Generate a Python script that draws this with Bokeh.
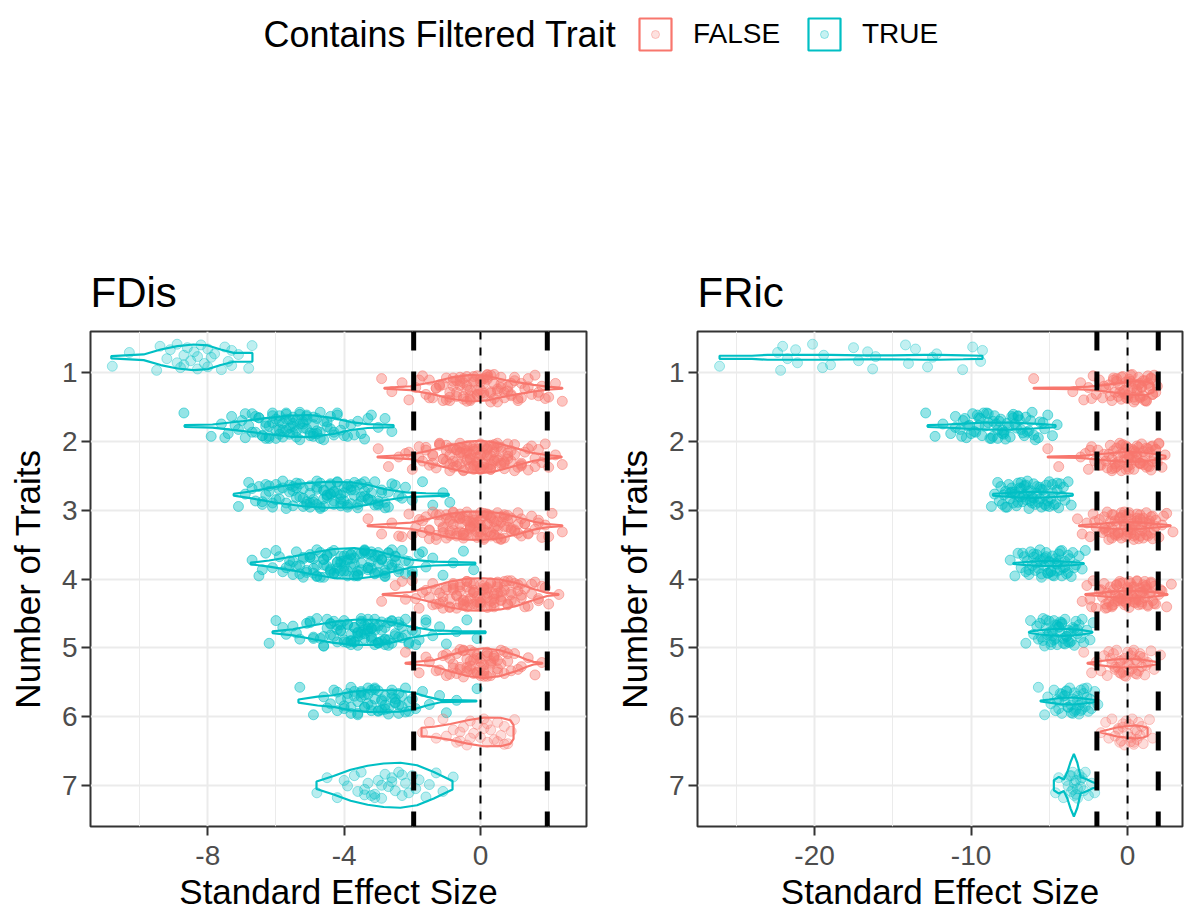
from bokeh.plotting import figure
from bokeh.models import (Range1d, FixedTicker, ColumnDataSource, Legend, LegendItem,
                          Label, Span, GlobalInlineStyleSheet)
from bokeh.layouts import column, row
from bokeh.embed import file_html
from bokeh.resources import INLINE

RED = "#F8766D"
TEAL = "#00BFC4"
FONT = "Liberation Sans"

TRAITS = [1, 2, 3, 4, 5, 6, 7]
GROUP_LABELS = ["FALSE", "TRUE"]

# ---------------- FDis : SES values per number of traits ----------------
FDIS_TRUE_POINTS = [
    [-10.8, -10.3, -9.5, -9.4, -9.2, -9.1, -8.9, -8.9, -8.8, -8.7, -8.7, -8.6, -8.5, -8.4, -8.3,
     -8.3, -8.2, -8.1, -8.0, -8.0, -7.9, -7.8, -7.6, -7.5, -7.4, -7.3, -7.3, -7.1, -6.8, -6.7],
    [-8.7, -7.9, -7.6, -7.4, -7.3, -7.1, -7.0, -6.9, -6.8, -6.7, -6.6, -6.5, -6.4, -6.3, -6.3,
     -6.2, -6.1, -6.0, -6.0, -5.9, -5.8, -5.8, -5.7, -5.6, -5.6, -5.5, -5.5, -5.4, -5.3, -5.3,
     -5.2, -5.1, -5.1, -5.0, -4.9, -4.9, -4.8, -4.7, -4.6, -4.5, -4.4, -4.3, -4.2, -4.1, -4.0,
     -3.9, -3.7, -3.6, -3.4, -3.2, -3.0, -2.8, -2.6, -5.7, -6.2, -5.2, -4.8, -6.6, -5.9, -5.4,
     -7.5, -7.2, -6.9, -6.7, -6.5, -6.4, -6.2, -6.1, -6.0, -5.9, -5.8, -5.7, -5.6, -5.5, -5.4,
     -5.3, -5.2, -5.1, -5.0, -4.9, -4.8, -4.7, -4.6, -4.5, -4.4, -4.2, -4.0, -3.8, -3.5, -3.3,
     -6.3, -5.9, -5.5, -5.1, -4.7, -6.1, -5.7, -5.3, -4.9, -4.3],
    [-7.1, -6.9, -6.8, -6.6, -6.5, -6.4, -6.3, -6.2, -6.1, -6.0, -5.9, -5.8, -5.7, -5.6, -5.5,
     -5.4, -5.3, -5.2, -5.1, -5.0, -4.9, -4.8, -4.7, -4.6, -4.5, -4.4, -4.3, -4.2, -4.1, -4.0,
     -3.9, -3.8, -3.7, -3.6, -3.5, -3.4, -3.3, -3.2, -3.1, -3.0, -2.9, -2.8, -2.6, -2.4, -2.2,
     -2.0, -1.7, -1.4, -1.1, -0.9, -5.6, -5.2, -4.8, -4.6, -4.4, -4.2, -4.0, -3.8, -3.6, -4.5,
     -4.3, -5.0, -3.9, -3.3, -5.4, -6.1, -2.7, -4.1, -4.7, -3.5,
     -6.7, -6.4, -6.2, -6.0, -5.8, -5.7, -5.5, -5.4, -5.3, -5.1, -5.0, -4.9, -4.8, -4.7, -4.6,
     -4.5, -4.4, -4.3, -4.2, -4.1, -4.0, -3.9, -3.8, -3.7, -3.6, -3.5, -3.4, -3.3, -3.2, -3.1,
     -3.0, -2.9, -2.8, -2.5, -2.3, -5.9, -5.2, -4.4, -3.7, -3.0, -5.5, -4.8, -4.1, -3.4, -2.7,
     -6.3, -4.6, -3.9, -5.0, -4.3],
    [-6.7, -6.5, -6.3, -6.1, -5.9, -5.8, -5.6, -5.5, -5.4, -5.3, -5.2, -5.1, -5.0, -4.9, -4.8,
     -4.7, -4.6, -4.5, -4.4, -4.3, -4.2, -4.1, -4.0, -3.9, -3.8, -3.7, -3.6, -3.5, -3.4, -3.3,
     -3.2, -3.1, -3.0, -2.9, -2.8, -2.7, -2.6, -2.5, -2.4, -2.3, -2.2, -2.1, -2.0, -1.8, -1.6,
     -1.4, -1.1, -0.8, -0.5, -0.2, -4.5, -4.3, -4.1, -3.9, -3.7, -3.5, -3.3, -3.1, -4.4, -4.0,
     -3.6, -3.2, -4.8, -5.0, -2.8, -3.8, -4.2, -3.4, -4.6, -2.9, -5.4, -3.0, -4.9, -2.5, -3.9,
     -4.1, -3.6, -5.2, -2.7, -3.3,
     -6.4, -6.0, -5.7, -5.5, -5.3, -5.1, -4.9, -4.8, -4.7, -4.6, -4.5, -4.4, -4.3, -4.2, -4.1,
     -4.0, -3.9, -3.8, -3.7, -3.6, -3.5, -3.4, -3.3, -3.2, -3.1, -3.0, -2.9, -2.8, -2.7, -2.6,
     -2.5, -2.4, -2.2, -2.0, -1.7, -5.6, -5.0, -4.4, -3.8, -3.2, -2.6, -5.2, -4.6, -4.0, -3.4,
     -2.8, -4.2, -3.6, -3.0, -4.8],
    [-6.2, -6.0, -5.7, -5.5, -5.3, -5.1, -4.9, -4.8, -4.6, -4.5, -4.4, -4.3, -4.2, -4.1, -4.0,
     -3.9, -3.8, -3.7, -3.6, -3.5, -3.4, -3.3, -3.2, -3.1, -3.0, -2.9, -2.8, -2.7, -2.6, -2.5,
     -2.4, -2.3, -2.2, -2.1, -2.0, -1.8, -1.6, -1.4, -1.2, -1.0, -0.7, -0.4, -0.1, -3.9, -3.7,
     -3.5, -3.3, -3.1, -2.9, -3.6, -3.4, -3.2, -4.2, -2.6, -4.0, -3.8, -3.0, -2.8, -4.4, -2.4,
     -3.5, -4.6, -3.2, -2.2, -5.0, -3.7, -3.3, -2.7, -4.1, -1.9,
     -5.8, -5.4, -5.0, -4.7, -4.5, -4.3, -4.1, -3.9, -3.8, -3.7, -3.6, -3.5, -3.4, -3.3, -3.2,
     -3.1, -3.0, -2.9, -2.8, -2.7, -2.5, -2.3, -2.1, -1.9, -1.6, -4.9, -4.4, -4.0, -3.6, -3.2,
     -2.8, -2.4, -4.6, -4.2, -3.8, -3.4, -3.0, -2.6, -3.5, -3.1],
    [-5.3, -4.9, -4.6, -4.4, -4.3, -4.2, -4.1, -4.0, -3.9, -3.8, -3.7, -3.6, -3.5, -3.4, -3.3,
     -3.2, -3.1, -3.0, -2.9, -2.8, -2.7, -2.6, -2.5, -2.4, -2.3, -2.2, -2.1, -2.0, -1.9, -1.7,
     -1.5, -1.2, -1.0, -0.7, -0.1, -3.8, -3.5, -3.2, -2.9, -2.6, -3.6, -3.0, -2.4, -3.3, -2.8,
     -3.9, -2.2, -3.1, -2.5, -3.4,
     -4.5, -4.2, -4.0, -3.8, -3.6, -3.5, -3.3, -3.2, -3.0, -2.9, -2.7, -2.6, -2.4, -2.3, -2.1,
     -3.7, -3.4, -3.1, -2.8, -2.5],
    [-4.8, -4.5, -4.2, -4.0, -3.9, -3.7, -3.6, -3.5, -3.4, -3.3, -3.2, -3.1, -3.0, -2.9, -2.8,
     -2.7, -2.6, -2.5, -2.4, -2.3, -2.2, -2.1, -2.0, -1.9, -1.8, -1.6, -1.5, -1.3, -1.1, -0.8,
     -3.4, -2.9, -2.6, -3.1, -2.3],
]
FDIS_FALSE_POINTS = [
    [-2.9, -2.6, -2.3, -2.1, -1.9, -1.7, -1.6, -1.5, -1.4, -1.3, -1.2, -1.1, -1.0, -0.9, -0.8,
     -0.7, -0.6, -0.5, -0.4, -0.3, -0.2, -0.1, 0.0, 0.1, 0.2, 0.3, 0.4, 0.5, 0.6, 0.7, 0.8, 0.9,
     1.0, 1.1, 1.2, 1.3, 1.4, 1.5, 1.6, 1.7, 1.8, 1.9, 2.0, 2.2, 2.4, -0.6, -0.4, -0.2, 0.0, 0.2,
     0.4, -0.8, -0.3, 0.1, 0.3, -0.5, -1.0, 0.6, -0.1, 0.9,
     -1.8, -1.5, -1.3, -1.1, -0.9, -0.8, -0.7, -0.6, -0.5, -0.4, -0.3, -0.2, -0.1, 0.0, 0.1,
     0.2, 0.3, 0.4, 0.5, 0.6, 0.8, 1.0, 1.2, 1.4, 1.7, -0.7, -0.3, 0.1, 0.5, -0.5, -0.1, 0.3,
     0.7, -1.2, 1.1, -0.9, 0.9, -0.4, 0.2, 0.0],
    [-3.0, -2.7, -2.4, -2.2, -2.0, -1.8, -1.7, -1.6, -1.5, -1.4, -1.3, -1.2, -1.1, -1.0, -0.9,
     -0.8, -0.7, -0.6, -0.5, -0.4, -0.3, -0.2, -0.1, 0.0, 0.1, 0.2, 0.3, 0.4, 0.5, 0.6, 0.7, 0.8,
     0.9, 1.0, 1.1, 1.2, 1.3, 1.4, 1.5, 1.6, 1.7, 1.8, 1.9, 2.0, 2.2, 2.4, -0.6, -0.4, -0.2, 0.0,
     0.2, 0.4, 0.6, -0.5, -0.3, -0.1, 0.1, 0.3, 0.5, -0.8, -0.7, -0.2, 0.0, 0.2, -1.0, 0.8, -0.4,
     0.1, -0.9, 0.7, -1.2, 1.0, -0.6, 0.4, -0.3, 0.3, -1.4, 1.2, -0.1, 0.0,
     -2.1, -1.8, -1.6, -1.4, -1.2, -1.0, -0.9, -0.8, -0.7, -0.6, -0.5, -0.4, -0.3, -0.2, -0.1,
     0.0, 0.1, 0.2, 0.3, 0.4, 0.5, 0.6, 0.7, 0.8, 1.0, 1.2, 1.4, 1.6, 1.9, -0.5, -0.2, 0.1, 0.4,
     -0.7, 0.6, -0.3, 0.0, 0.3, -1.1, 0.9, -0.6, 0.2, -0.1, 0.5, -0.9, 0.8, -0.4, 0.1, -0.2, 0.3],
    [-3.3, -2.9, -2.6, -2.3, -2.1, -1.9, -1.8, -1.7, -1.6, -1.5, -1.4, -1.3, -1.2, -1.1, -1.0,
     -0.9, -0.8, -0.7, -0.6, -0.5, -0.4, -0.3, -0.2, -0.1, 0.0, 0.1, 0.2, 0.3, 0.4, 0.5, 0.6, 0.7,
     0.8, 0.9, 1.0, 1.1, 1.2, 1.3, 1.4, 1.5, 1.6, 1.7, 1.8, 1.9, 2.1, 2.4, -0.7, -0.5, -0.3, -0.1,
     0.1, 0.3, 0.5, -0.6, -0.4, -0.2, 0.0, 0.2, 0.4, -0.9, -1.1, 0.7, 0.9, -0.8, 0.6, -0.3, 0.0,
     0.2, -1.3, 1.1, -0.5, 0.3, -1.0, 0.8, -0.2, 0.1, -0.6, 0.5, -1.5, 1.3,
     -2.4, -2.0, -1.7, -1.5, -1.3, -1.1, -1.0, -0.9, -0.8, -0.7, -0.6, -0.5, -0.4, -0.3, -0.2,
     -0.1, 0.0, 0.1, 0.2, 0.3, 0.4, 0.5, 0.6, 0.7, 0.8, 1.0, 1.2, 1.4, 1.7, 2.0, -0.6, -0.3, 0.0,
     0.3, 0.6, -0.8, -0.4, 0.1, 0.4, 0.9, -1.2, -0.2, 0.2, 1.1, -0.5, 0.5, -0.9, 0.7, -0.1, 0.0],
    [-2.9, -2.5, -2.2, -2.0, -1.8, -1.6, -1.5, -1.4, -1.3, -1.2, -1.1, -1.0, -0.9, -0.8, -0.7,
     -0.6, -0.5, -0.4, -0.3, -0.2, -0.1, 0.0, 0.1, 0.2, 0.3, 0.4, 0.5, 0.6, 0.7, 0.8, 0.9, 1.0,
     1.1, 1.2, 1.3, 1.4, 1.5, 1.6, 1.7, 1.8, 2.0, 2.3, -0.6, -0.4, -0.2, 0.0, 0.2, 0.4, 0.6, -0.5,
     -0.3, -0.1, 0.1, 0.3, 0.5, -0.9, 0.8, -0.7, 0.7, -1.1, 1.0, -0.2, 0.2, 0.0, -0.4, 0.4, -1.3,
     1.2, -0.8, 0.9,
     -2.3, -1.9, -1.7, -1.4, -1.2, -1.0, -0.9, -0.8, -0.7, -0.6, -0.5, -0.4, -0.3, -0.2, -0.1,
     0.0, 0.1, 0.2, 0.3, 0.4, 0.5, 0.6, 0.7, 0.8, 0.9, 1.1, 1.3, 1.5, 1.7, 1.9, -0.6, -0.3, 0.0,
     0.3, 0.6, -0.8, -0.4, 0.1, 0.4, 0.9, -1.1, -0.2, 0.2, 1.2, -0.5, 0.5],
    [-2.2, -1.8, -1.5, -1.3, -1.1, -1.0, -0.9, -0.8, -0.7, -0.6, -0.5, -0.4, -0.3, -0.2, -0.1,
     0.0, 0.1, 0.2, 0.3, 0.4, 0.5, 0.6, 0.7, 0.8, 0.9, 1.0, 1.2, 1.4, 1.6, 1.8, -0.5, -0.3, -0.1,
     0.1, 0.3, -0.2, 0.0, 0.2, -0.6, 0.4, -0.4, 0.5, -0.9, 0.7, 0.1,
     -1.6, -1.2, -1.0, -0.8, -0.6, -0.5, -0.4, -0.3, -0.2, -0.1, 0.0, 0.1, 0.2, 0.3, 0.4, 0.6,
     0.8, 1.1, -0.3, 0.0, 0.3, -0.7, 0.5, -0.1, 0.2],
    [-1.7, -1.5, -1.3, -1.1, -1.0, -0.8, -0.7, -0.6, -0.5, -0.4, -0.3, -0.2, -0.1, 0.0, 0.1,
     0.2, 0.3, 0.4, 0.5, 0.6, 0.7, 0.8, 0.9, 1.0, -0.3, 0.2, 0.5, -0.6, 0.1, 0.7],
]

# FDis violin outlines: SES grid and half-width (in category units)
FDIS_TRUE_VIOLIN_X = [
    [-10.83, -9.88, -9.38, -8.89, -8.42, -8.0, -7.62, -7.24, -6.69],
    [-8.68, -7.86, -6.95, -6.3, -5.57, -5.0, -4.31, -3.81, -3.31, -2.55],
    [-7.24, -6.8, -6.0, -5.2, -4.5, -3.8, -3.3, -2.8, -2.2, -1.6, -0.93],
    [-6.74, -6.2, -5.5, -4.9, -4.3, -3.7, -3.1, -2.55, -2.05, -1.37, -0.15],
    [-6.1, -5.5, -4.9, -4.3, -3.7, -3.1, -2.55, -2.05, -1.37, -0.6, 0.15],
    [-5.34, -4.78, -4.31, -3.81, -3.31, -2.84, -2.35, -1.96, -1.55, -1.17, -0.12],
    [-4.81, -4.31, -3.81, -3.31, -2.84, -2.35, -1.86, -1.37, -0.82],
]
FDIS_TRUE_VIOLIN_W = [
    [0.017, 0.041, 0.113, 0.163, 0.186, 0.172, 0.113, 0.065, 0.063],
    [0.012, 0.022, 0.073, 0.116, 0.153, 0.16, 0.116, 0.058, 0.029, 0.015],
    [0.012, 0.044, 0.116, 0.167, 0.189, 0.182, 0.145, 0.08, 0.036, 0.022, 0.012],
    [0.012, 0.044, 0.102, 0.16, 0.211, 0.225, 0.189, 0.116, 0.058, 0.029, 0.012],
    [0.012, 0.044, 0.102, 0.153, 0.182, 0.182, 0.145, 0.08, 0.029, 0.015, 0.012],
    [0.022, 0.065, 0.084, 0.134, 0.157, 0.157, 0.153, 0.121, 0.061, 0.017, 0.007],
    [0.055, 0.134, 0.225, 0.284, 0.316, 0.327, 0.291, 0.193, 0.061],
]
FDIS_FALSE_VIOLIN_X = [
    [-2.82, -2.05, -1.38, -0.88, -0.29, 0.2, 0.78, 1.56, 1.96, 2.4],
    [-3.02, -2.05, -1.37, -0.88, -0.38, 0.0, 0.39, 1.08, 1.56, 1.96, 2.38],
    [-3.31, -2.05, -1.37, -0.88, -0.38, 0.09, 0.59, 1.08, 1.56, 1.96, 2.4],
    [-2.87, -2.05, -1.37, -0.88, -0.38, 0.09, 0.59, 1.08, 1.56, 1.96, 2.29],
    [-2.2, -1.37, -0.88, -0.38, 0.09, 0.59, 1.08, 1.38, 1.56, 1.81],
    [-1.73, -1.37, -0.88, -0.38, 0.09, 0.59, 0.88, 0.97],
]
FDIS_FALSE_VIOLIN_W = [
    [0.007, 0.029, 0.09, 0.153, 0.193, 0.177, 0.113, 0.048, 0.022, 0.007],
    [0.007, 0.032, 0.109, 0.17, 0.223, 0.236, 0.214, 0.121, 0.055, 0.029, 0.007],
    [0.007, 0.044, 0.116, 0.175, 0.204, 0.204, 0.182, 0.124, 0.058, 0.022, 0.007],
    [0.007, 0.036, 0.121, 0.189, 0.23, 0.236, 0.218, 0.163, 0.08, 0.022, 0.007],
    [0.007, 0.044, 0.121, 0.186, 0.218, 0.186, 0.109, 0.048, 0.019, 0.007],
    [0.061, 0.076, 0.116, 0.17, 0.208, 0.207, 0.17, 0.1],
]

# ---------------- FRic ----------------
FRIC_TRUE_POINTS = [
    [-26.07, -22.36, -22.17, -22.04, -21.73, -21.21, -21.09, -20.13, -19.49, -19.42, -18.98,
     -17.51, -17.19, -16.61, -16.29, -16.1, -14.19, -14.0, -13.55, -12.78, -12.46, -12.2,
     -10.54, -9.9, -9.39, -9.27],
    [-12.9, -12.3, -11.8, -11.3, -11.0, -10.7, -10.5, -10.3, -10.1, -9.9, -9.7, -9.5, -9.3,
     -9.1, -8.9, -8.7, -8.5, -8.3, -8.1, -7.9, -7.7, -7.5, -7.3, -7.1, -6.9, -6.7, -6.5, -6.3,
     -6.1, -5.9, -5.6, -5.3, -5.1, -4.8, -4.5, -10.0, -9.4, -8.8, -8.2, -7.6, -7.0, -6.4, -9.0,
     -8.0, -7.2, -10.6, -6.0, -8.6, -7.8, -9.6,
     -11.0, -10.4, -9.8, -9.2, -8.6, -8.4, -8.0, -7.4, -6.8, -6.2, -5.7, -9.5, -8.9, -7.9,
     -7.3, -6.6, -10.2, -5.4, -8.3, -7.0],
    [-8.7, -8.5, -8.3, -8.2, -8.1, -8.0, -7.9, -7.8, -7.7, -7.6, -7.5, -7.4, -7.3, -7.2, -7.1,
     -7.0, -6.9, -6.8, -6.7, -6.6, -6.5, -6.4, -6.3, -6.2, -6.1, -6.0, -5.9, -5.8, -5.7, -5.6,
     -5.5, -5.4, -5.3, -5.2, -5.1, -5.0, -4.9, -4.8, -4.7, -4.6, -4.5, -4.4, -4.3, -4.2, -4.1,
     -4.0, -3.8, -3.6, -7.5, -7.0, -6.5, -6.0, -5.5, -5.0, -7.2, -6.8, -6.2, -5.8, -5.3, -6.6,
     -6.4, -7.8, -4.8, -5.6, -6.9, -6.1, -7.4, -5.2, -4.5, -6.7],
    [-7.5, -7.2, -7.0, -6.8, -6.6, -6.5, -6.4, -6.3, -6.2, -6.1, -6.0, -5.9, -5.8, -5.7, -5.6,
     -5.5, -5.4, -5.3, -5.2, -5.1, -5.0, -4.9, -4.8, -4.7, -4.6, -4.5, -4.4, -4.3, -4.2, -4.1,
     -4.0, -3.9, -3.8, -3.7, -3.6, -3.5, -3.3, -3.1, -2.9, -2.7, -5.5, -5.0, -4.5, -6.0, -4.0,
     -5.3, -4.8, -5.8, -4.3, -6.3, -3.8, -5.1, -4.6, -5.6, -4.2, -6.7, -3.4, -5.2, -4.9, -4.4],
    [-6.5, -6.2, -6.0, -5.8, -5.7, -5.6, -5.5, -5.4, -5.3, -5.2, -5.1, -5.0, -4.9, -4.8, -4.7,
     -4.6, -4.5, -4.4, -4.3, -4.2, -4.1, -4.0, -3.9, -3.8, -3.7, -3.6, -3.5, -3.4, -3.3, -3.2,
     -3.1, -3.0, -2.9, -2.8, -2.6, -2.4, -2.2, -4.8, -4.4, -4.0, -3.6, -5.2, -4.6, -4.2, -3.8,
     -5.0, -3.4, -4.9, -4.3, -3.9, -4.5, -5.4, -3.2, -4.1, -4.7],
    [-5.7, -5.3, -5.1, -4.9, -4.7, -4.6, -4.5, -4.4, -4.3, -4.2, -4.1, -4.0, -3.9, -3.8, -3.7,
     -3.6, -3.5, -3.4, -3.3, -3.2, -3.1, -3.0, -2.9, -2.8, -2.7, -2.6, -2.5, -2.4, -2.3, -2.1,
     -1.9, -4.0, -3.6, -3.2, -2.8, -3.8, -3.4, -3.0, -4.4, -2.6, -3.5, -3.9, -3.1, -4.2, -2.9],
    [-4.6, -4.4, -4.1, -3.9, -3.8, -3.7, -3.6, -3.5, -3.5, -3.4, -3.4, -3.3, -3.3, -3.2, -3.1,
     -3.0, -2.9, -2.8, -2.7, -2.5, -2.3, -2.1, -3.6, -3.2, -3.0],
]
FRIC_FALSE_POINTS = [
    [-6.0, -3.5, -3.0, -2.8, -2.5, -2.2, -2.0, -1.8, -1.6, -1.4, -1.2, -1.0, -0.9, -0.8, -0.7,
     -0.6, -0.5, -0.4, -0.3, -0.2, -0.1, 0.0, 0.1, 0.2, 0.3, 0.4, 0.5, 0.6, 0.7, 0.8, 0.9, 1.0,
     1.1, 1.2, 1.3, 1.4, 1.5, 1.6, 1.7, 1.8, 1.9, 0.0, 0.4, 0.8, 1.2, -0.4, 0.6, 1.0, -0.2, 0.2,
     -2.3, -1.5, -1.1, -0.7, -0.3, 0.1, 0.5, 0.9, 1.3, 1.6, -0.9, -0.1, 0.3, 0.7, 1.1, 1.5,
     -0.5, 0.2, 0.8, 1.4],
    [-5.1, -4.4, -3.0, -2.7, -2.5, -2.3, -2.1, -1.9, -1.7, -1.5, -1.3, -1.1, -1.0, -0.9, -0.8,
     -0.7, -0.6, -0.5, -0.4, -0.3, -0.2, -0.1, 0.0, 0.1, 0.2, 0.3, 0.4, 0.5, 0.6, 0.7, 0.8, 0.9,
     1.0, 1.1, 1.2, 1.3, 1.4, 1.5, 1.6, 1.7, 1.8, 1.9, 2.0, 2.2, 2.4, -0.5, 0.0, 0.5, 1.0, -1.0,
     0.3, -0.3, 0.8, 1.3, -0.7, 0.1, 0.6, -0.1, 1.5, -1.4,
     -2.4, -1.8, -1.2, -0.8, -0.4, 0.0, 0.4, 0.8, 1.2, 1.6, 2.0, -1.0, -0.2, 0.2, 0.6, 1.4,
     -0.6, 1.0, 1.8, 0.1],
    [-3.2, -2.9, -2.6, -2.4, -2.2, -2.0, -1.8, -1.6, -1.5, -1.4, -1.3, -1.2, -1.1, -1.0, -0.9,
     -0.8, -0.7, -0.6, -0.5, -0.4, -0.3, -0.2, -0.1, 0.0, 0.1, 0.2, 0.3, 0.4, 0.5, 0.6, 0.7, 0.8,
     0.9, 1.0, 1.1, 1.2, 1.3, 1.4, 1.5, 1.6, 1.7, 1.8, 2.0, 2.2, 2.5, 2.9, -0.5, 0.0, 0.5, 1.0,
     -1.0, -0.3, 0.3, 0.8, -0.8, 1.2, -0.1, 0.6, -1.4, 0.2, -0.6, 1.5, 0.9, -0.2, 0.4,
     -2.1, -1.5, -1.0, -0.6, -0.2, 0.2, 0.6, 1.0, 1.4, 1.8, 2.3, -1.2, -0.4, 0.0, 0.4, 0.8,
     1.2, -0.8, 1.6, 0.1],
    [-2.9, -2.6, -2.4, -2.2, -2.0, -1.8, -1.6, -1.5, -1.4, -1.3, -1.2, -1.1, -1.0, -0.9, -0.8,
     -0.7, -0.6, -0.5, -0.4, -0.3, -0.2, -0.1, 0.0, 0.1, 0.2, 0.3, 0.4, 0.5, 0.6, 0.7, 0.8, 0.9,
     1.0, 1.1, 1.2, 1.3, 1.4, 1.5, 1.6, 1.7, 1.8, 2.0, 2.2, 2.5, 2.8, -0.5, 0.0, 0.5, 1.0, -1.0,
     -0.3, 0.3, 0.8, -0.8, 1.2, -0.1, 0.6, -1.4, 0.2, -0.6, 1.5, 0.9, -0.2, 0.4, 1.1,
     -2.3, -1.7, -1.1, -0.7, -0.3, 0.1, 0.5, 0.9, 1.3, 1.7, 2.1, -1.3, -0.5, 0.0, 0.3, 0.7,
     1.1, -0.9, 1.5, -0.1],
    [-2.8, -2.3, -2.0, -1.7, -1.5, -1.3, -1.1, -1.0, -0.9, -0.8, -0.7, -0.6, -0.5, -0.4, -0.3,
     -0.2, -0.1, 0.0, 0.1, 0.2, 0.3, 0.4, 0.5, 0.6, 0.7, 0.8, 0.9, 1.0, 1.1, 1.3, 1.5, 1.7, 2.1,
     -0.5, 0.0, 0.5, -0.2, 0.3, -0.8, 0.8, 0.1, -0.4, 0.6, -1.2, 1.2],
    [-1.7, -1.4, -1.2, -1.0, -0.8, -0.6, -0.5, -0.4, -0.3, -0.2, -0.1, 0.0, 0.1, 0.2, 0.3,
     0.4, 0.5, 0.6, 0.7, 0.8, 0.9, 1.0, 1.2, 1.4, 1.6, -0.3, 0.2, 0.6, -0.6, 0.4],
]

FRIC_TRUE_VIOLIN_X = [
    [-26.07, -24.0, -23.0, -21.0, -19.0, -17.0, -15.0, -13.0, -12.0, -10.5, -9.27],
    [-12.78, -11.5, -10.5, -9.0, -7.5, -6.0, -4.6],
    [-8.6, -8.0, -7.0, -6.0, -5.0, -4.0, -3.5],
    [-7.3, -6.5, -5.5, -4.5, -3.5, -2.8],
    [-6.3, -5.7, -5.0, -4.0, -3.0, -2.25],
    [-5.56, -5.0, -4.3, -3.5, -2.8, -2.1],
    [-4.71, -4.39, -4.07, -3.85, -3.64, -3.43, -3.21, -3.0, -2.58, -2.26, -2.04],
]
FRIC_TRUE_VIOLIN_W = [
    [0.022, 0.022, 0.036, 0.036, 0.036, 0.029, 0.029, 0.036, 0.036, 0.029, 0.022],
    [0.012, 0.022, 0.036, 0.051, 0.051, 0.036, 0.015],
    [0.012, 0.022, 0.036, 0.044, 0.036, 0.022, 0.012],
    [0.007, 0.022, 0.036, 0.036, 0.022, 0.007],
    [0.007, 0.029, 0.044, 0.051, 0.036, 0.007],
    [0.007, 0.022, 0.044, 0.051, 0.036, 0.015],
    [0.073, 0.121, 0.084, 0.193, 0.339, 0.455, 0.327, 0.121, 0.084, 0.048, 0.029],
]
FRIC_FALSE_VIOLIN_X = [
    [-6.0, -3.5, -2.5, -1.5, -0.5, 0.5, 1.2, 1.66],
    [-5.1, -3.0, -2.0, -1.0, 0.0, 1.0, 1.96, 2.43],
    [-3.1, -2.0, -1.0, 0.0, 1.0, 2.0, 2.75],
    [-2.7, -1.8, -0.8, 0.2, 1.2, 2.0, 2.55],
    [-2.56, -1.8, -1.0, 0.0, 1.0, 1.9],
    [-1.72, -1.2, -0.7, 0.0, 0.5, 1.0, 1.28],
]
FRIC_FALSE_VIOLIN_W = [
    [0.007, 0.012, 0.022, 0.044, 0.073, 0.102, 0.095, 0.058],
    [0.007, 0.015, 0.036, 0.058, 0.073, 0.065, 0.036, 0.015],
    [0.007, 0.022, 0.044, 0.051, 0.044, 0.022, 0.007],
    [0.007, 0.022, 0.044, 0.051, 0.044, 0.022, 0.007],
    [0.007, 0.029, 0.051, 0.065, 0.051, 0.015],
    [0.007, 0.036, 0.065, 0.087, 0.095, 0.08, 0.058],
]

SES_THRESHOLDS = [-1.96, 1.96]
SES_ZERO = 0

# vertical jitter offsets for the points (position only)
JITTER = [0.13, -0.07, 0.19, -0.16, 0.02, -0.11, 0.08, -0.19, 0.15, -0.03, 0.11, -0.14, 0.05,
          -0.08, 0.17, -0.01, -0.18, 0.09, -0.12, 0.14, 0.0, -0.05, 0.18, -0.15, 0.06, -0.1,
          0.12, -0.04, 0.16, -0.17, 0.03, -0.09, 0.1, -0.13, 0.07, -0.2, 0.2, -0.06, 0.04,
          -0.16, 0.14, -0.02, 0.11, -0.11, 0.18, -0.07, 0.01, -0.14, 0.09, -0.19, 0.06, -0.03,
          0.15]
DODGE = 0.225


def style_panel(p, major, minor):
    p.title.text_font = FONT
    p.title.text_font_size = "42px"
    p.title.text_font_style = "normal"
    p.title.text_color = "#000000"
    p.title.align = "left"
    p.title.standoff = 31
    p.xaxis.ticker = FixedTicker(ticks=major, minor_ticks=minor)
    p.xaxis.major_label_overrides = {t: "%d" % t for t in major}
    p.yaxis.ticker = FixedTicker(ticks=TRAITS)
    p.xgrid.grid_line_color = "#EBEBEB"
    p.xgrid.grid_line_width = 2
    p.xgrid.minor_grid_line_color = "#EBEBEB"
    p.xgrid.minor_grid_line_width = 1
    p.ygrid.grid_line_color = "#EBEBEB"
    p.ygrid.grid_line_width = 2
    for ax in (p.xaxis[0], p.yaxis[0]):
        ax.axis_line_color = None
        ax.major_tick_line_color = "#333333"
        ax.major_tick_line_width = 2
        ax.major_tick_out = 9
        ax.major_tick_in = 0
        ax.minor_tick_line_color = None
        ax.major_label_text_font = FONT
        ax.major_label_text_font_size = "28px"
        ax.major_label_text_color = "#4D4D4D"
        ax.axis_label_text_font = FONT
        ax.axis_label_text_font_size = "35px"
        ax.axis_label_text_font_style = "normal"
        ax.axis_label_text_color = "#000000"
    p.xaxis.major_label_standoff = 10
    p.xaxis.axis_label_standoff = 4
    p.yaxis.major_label_standoff = 4
    p.yaxis.axis_label_standoff = 12
    p.xaxis.axis_label = "Standard Effect Size"
    p.yaxis.axis_label = "Number of Traits"
    p.outline_line_color = "#333333"
    p.outline_line_width = 2


def draw_series(p, pts, vx, vw, color, shift, other_count, seed):
    xs, ys = [], []
    for i, (vals, gx, gw) in enumerate(zip(pts, vx, vw)):
        k = TRAITS[i]
        off = shift if i < other_count else 0.0
        c = k + off
        pys = [c + JITTER[(j + seed + 7 * i) % len(JITTER)] for j in range(len(vals))]
        # denser groups are drawn a bit more opaque so the cloud reads as in the original
        alpha = min(0.42, 0.12 + len(vals) / 220.0)
        p.scatter(x="x", y="y", source=ColumnDataSource(dict(x=list(vals), y=pys)), size=10,
                  fill_color=color, fill_alpha=alpha, line_color=color,
                  line_alpha=min(0.55, alpha + 0.12), line_width=1)
        xs.append(list(gx) + list(gx[::-1]))
        ys.append([c - w for w in gw] + [c + w for w in gw[::-1]])
    return xs, ys


def panel(title, xr, major, minor, true_pts, false_pts, tvx, tvw, fvx, fvw, width, left, right):
    p = figure(width=width, height=838, x_range=Range1d(*xr), y_range=Range1d(7.6, 0.4),
               title=title, toolbar_location=None, output_backend="svg",
               min_border_left=left, min_border_right=right, min_border_top=253,
               min_border_bottom=90, background_fill_color="white", border_fill_color="white")
    style_panel(p, major, minor)
    txs, tys = draw_series(p, true_pts, tvx, tvw, TEAL, -DODGE, len(false_pts), 0)
    fxs, fys = draw_series(p, false_pts, fvx, fvw, RED, DODGE, len(true_pts), 11)
    p.patches(xs=txs, ys=tys, fill_color=None, line_color=TEAL, line_width=2.2)
    p.patches(xs=fxs, ys=fys, fill_color=None, line_color=RED, line_width=2.2)
    for loc in SES_THRESHOLDS:
        p.add_layout(Span(location=loc, dimension="height", line_color="black",
                          line_width=5, line_dash="19 21"))
    p.add_layout(Span(location=SES_ZERO, dimension="height", line_color="black",
                      line_width=2, line_dash="8 8"))
    return p


p1 = panel("FDis", (-11.44, 3.11), [-8, -4, 0], [-10, -6, -2, 2],
           FDIS_TRUE_POINTS, FDIS_FALSE_POINTS, FDIS_TRUE_VIOLIN_X, FDIS_TRUE_VIOLIN_W,
           FDIS_FALSE_VIOLIN_X, FDIS_FALSE_VIOLIN_W, 600, 90, 14)
p2 = panel("FRic", (-27.48, 3.51), [-20, -10, 0], [-25, -15, -5],
           FRIC_TRUE_POINTS, FRIC_FALSE_POINTS, FRIC_TRUE_VIOLIN_X, FRIC_TRUE_VIOLIN_W,
           FRIC_FALSE_VIOLIN_X, FRIC_FALSE_VIOLIN_W, 584, 97, 2)

# legend strip on top
lg = figure(width=1184, height=78, x_range=Range1d(0, 1), y_range=Range1d(0, 1),
            toolbar_location=None, output_backend="svg", min_border=0,
            outline_line_color=None)
lg.axis.visible = False
lg.grid.visible = False
KEY_LEFT = [635, 804]
for lab, col, kx in zip(GROUP_LABELS, [RED, TEAL], KEY_LEFT):
    # key glyphs only (their data sit outside the visible range of this strip)
    rq = lg.quad(left=[5], right=[6], top=[6], bottom=[5], fill_color="white",
                 line_color=col, line_width=2.2)
    rs = lg.scatter(x=[5], y=[5], size=9, fill_color=col, fill_alpha=0.22,
                    line_color=col, line_alpha=0.38)
    lg.add_layout(Legend(items=[LegendItem(label=lab, renderers=[rq])], location=(kx, 24),
                         glyph_width=40, glyph_height=40, label_text_font=FONT,
                         label_text_font_size="28px", label_text_color="#000000",
                         label_standoff=18, padding=0, margin=0, border_line_color=None,
                         background_fill_alpha=0, label_height=40))
    lg.add_layout(Legend(items=[LegendItem(label=" ", renderers=[rs])], location=(kx + 10, 34),
                         glyph_width=20, glyph_height=20, label_text_font_size="2px",
                         label_standoff=0, padding=0, margin=0, border_line_color=None,
                         background_fill_alpha=0, label_height=20, label_width=0))
lg.add_layout(Label(x=263, y=44, x_units="screen", y_units="screen",
                    text="Contains Filtered Trait", text_font=FONT, text_color="#000000",
                    text_font_size="36px", text_baseline="middle"))

layout = column(lg, row(p1, p2),
                stylesheets=[GlobalInlineStyleSheet(css="html, body {overflow: hidden;}")])

open("out.html", "w").write(file_html(layout, INLINE))
